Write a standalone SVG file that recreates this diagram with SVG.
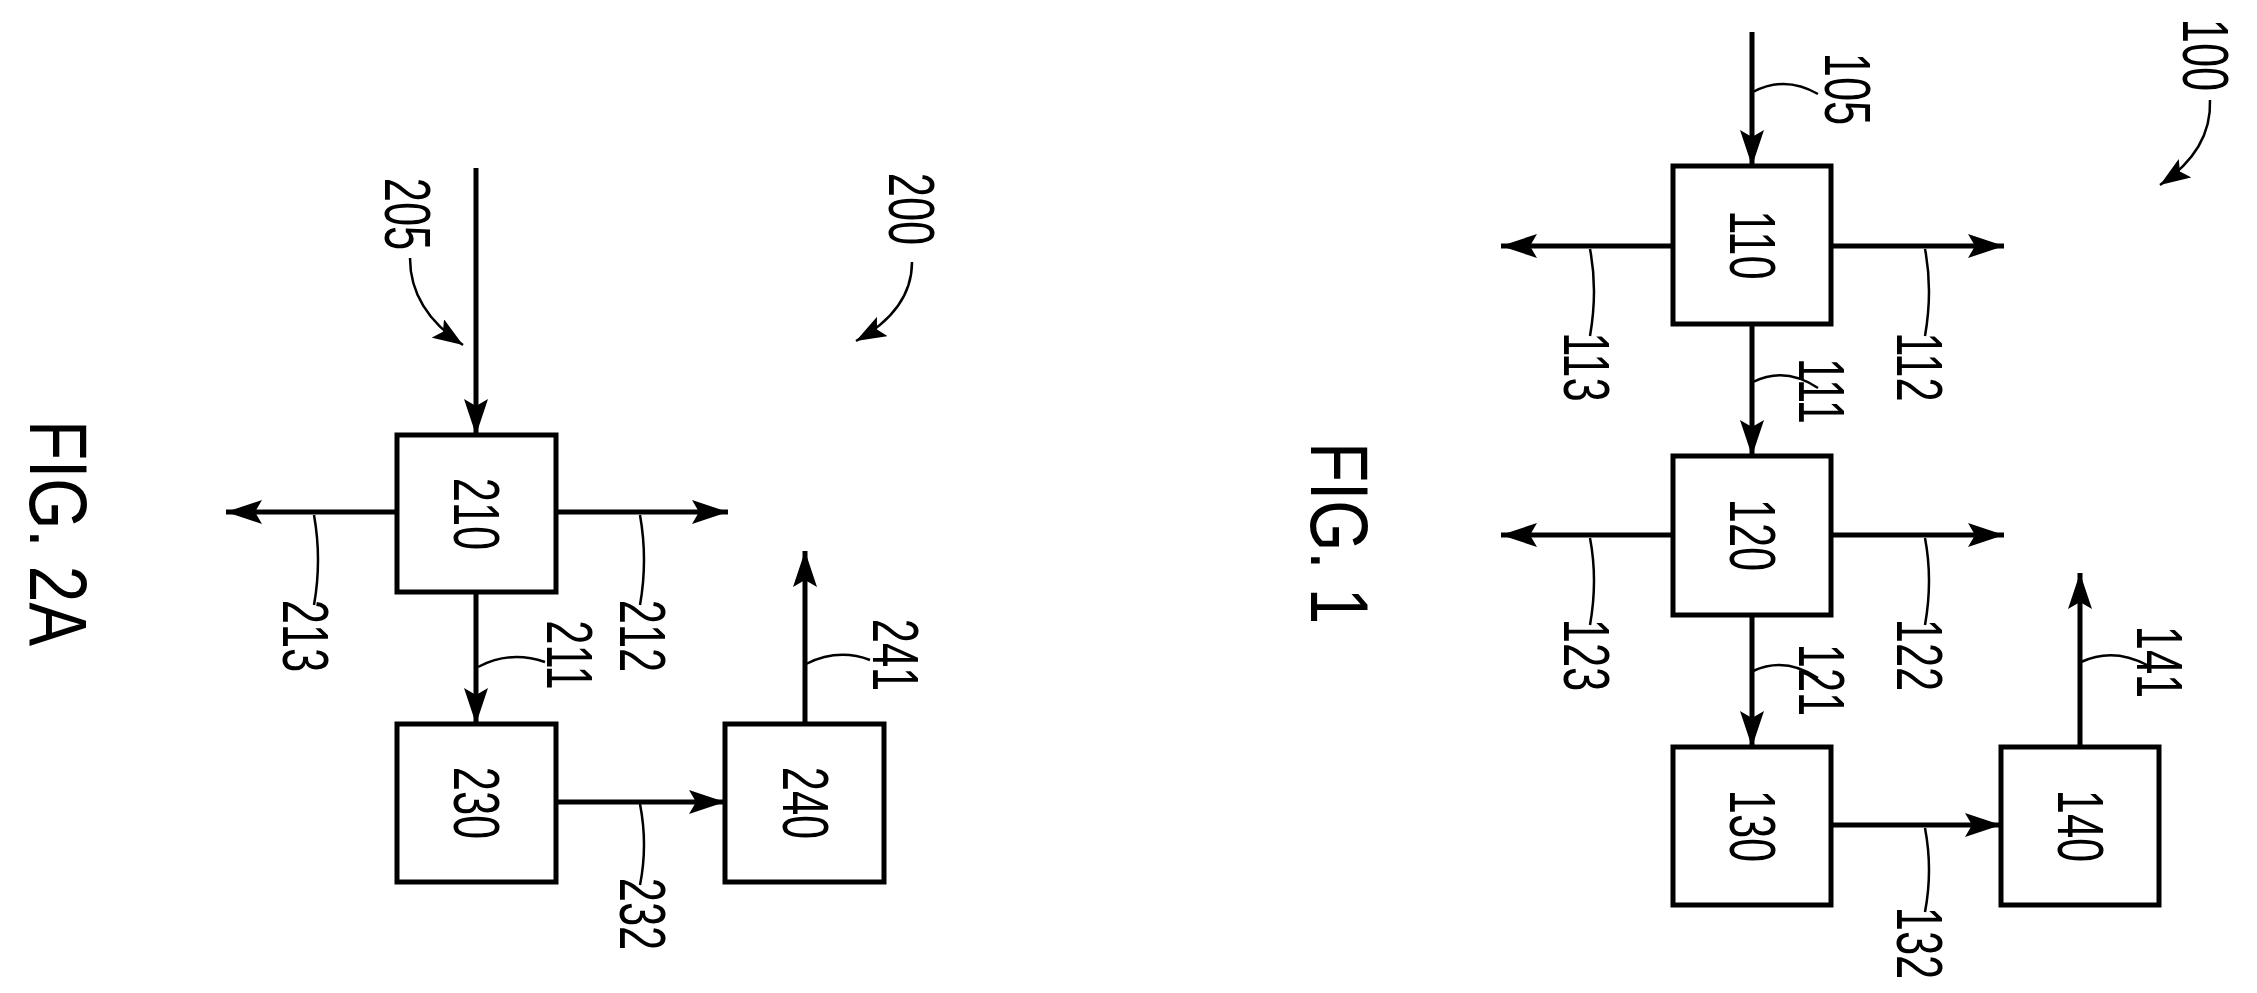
<svg xmlns="http://www.w3.org/2000/svg" width="2257" height="993" viewBox="0 0 2257 993">
<style>
.b{fill:#fff;stroke:#000;stroke-width:5}
.l{stroke:#000;stroke-width:5;fill:none}
.ld{stroke:#000;stroke-width:2.5;fill:none}
text{font-family:"Liberation Sans",Arial,sans-serif;font-size:64px;fill:#000;text-anchor:middle;dominant-baseline:central}
.f{font-size:82px}
</style>
<defs>
<marker id="a" viewBox="0 0 36 24" refX="36" refY="12" markerWidth="36" markerHeight="24" markerUnits="userSpaceOnUse" orient="auto"><path d="M0,0 L36,12 L0,24 L7,12 Z" fill="#000"/></marker>
<marker id="s" viewBox="0 0 30 22" refX="30" refY="11" markerWidth="30" markerHeight="22" markerUnits="userSpaceOnUse" orient="auto"><path d="M0,0 L30,11 L0,22 L6,11 Z" fill="#000"/></marker>
</defs>
<g id="connectors">
<line class="l" x1="1752" y1="32" x2="1752" y2="166" marker-end="url(#a)"/>
<line class="l" x1="1673" y1="246" x2="1501" y2="246" marker-end="url(#a)"/>
<line class="l" x1="1831" y1="246" x2="2004" y2="246" marker-end="url(#a)"/>
<line class="l" x1="1752" y1="324" x2="1752" y2="456" marker-end="url(#a)"/>
<line class="l" x1="1673" y1="535" x2="1501" y2="535" marker-end="url(#a)"/>
<line class="l" x1="1831" y1="535" x2="2004" y2="535" marker-end="url(#a)"/>
<line class="l" x1="1752" y1="615" x2="1752" y2="747" marker-end="url(#a)"/>
<line class="l" x1="1831" y1="825" x2="2001" y2="825" marker-end="url(#a)"/>
<line class="l" x1="2080" y1="747" x2="2080" y2="573" marker-end="url(#a)"/>
<path class="ld" d="M2210,100 Q2212,150 2160,185" marker-end="url(#s)"/>
<path class="ld" d="M1753,92 Q1785,75 1818,94"/>
<path class="ld" d="M1753,382 Q1785,366 1818,388"/>
<path class="ld" d="M1753,671 Q1785,656 1818,678"/>
<path class="ld" d="M2081,662 Q2113,647 2147,665"/>
<path class="ld" d="M1590,249 Q1598,290 1590,336"/>
<path class="ld" d="M1925,249 Q1933,290 1925,336"/>
<path class="ld" d="M1590,538 Q1598,580 1590,625"/>
<path class="ld" d="M1925,538 Q1933,580 1925,625"/>
<path class="ld" d="M1925,828 Q1933,870 1925,912"/>
<line class="l" x1="476" y1="168" x2="476" y2="435" marker-end="url(#a)"/>
<line class="l" x1="397" y1="512" x2="226" y2="512" marker-end="url(#a)"/>
<line class="l" x1="556" y1="512" x2="728" y2="512" marker-end="url(#a)"/>
<line class="l" x1="476" y1="592" x2="476" y2="724" marker-end="url(#a)"/>
<line class="l" x1="556" y1="802" x2="725" y2="802" marker-end="url(#a)"/>
<line class="l" x1="805" y1="724" x2="805" y2="551" marker-end="url(#a)"/>
<path class="ld" d="M410,258 Q410,310 463,345" marker-end="url(#s)"/>
<path class="ld" d="M912,262 Q912,310 856,341" marker-end="url(#s)"/>
<path class="ld" d="M314,515 Q322,560 314,605"/>
<path class="ld" d="M640,515 Q648,560 640,605"/>
<path class="ld" d="M640,804 Q648,845 640,885"/>
<path class="ld" d="M478,667 Q510,650 545,662"/>
<path class="ld" d="M806,664 Q838,648 870,660"/>
</g>
<g id="n110"><rect class="b" x="1673" y="166" width="158" height="158"/><text transform="translate(1752,245) rotate(90) scale(0.68,1)">110</text></g>
<g id="n120"><rect class="b" x="1673" y="456" width="158" height="159"/><text transform="translate(1752,535) rotate(90) scale(0.68,1)">120</text></g>
<g id="n130"><rect class="b" x="1673" y="747" width="158" height="158"/><text transform="translate(1752,826) rotate(90) scale(0.68,1)">130</text></g>
<g id="n140"><rect class="b" x="2001" y="747" width="158" height="158"/><text transform="translate(2080,826) rotate(90) scale(0.68,1)">140</text></g>
<g id="n210"><rect class="b" x="397" y="435" width="159" height="157"/><text transform="translate(476,514) rotate(90) scale(0.68,1)">210</text></g>
<g id="n230"><rect class="b" x="397" y="724" width="159" height="158"/><text transform="translate(476,803) rotate(90) scale(0.68,1)">230</text></g>
<g id="n240"><rect class="b" x="725" y="724" width="159" height="158"/><text transform="translate(805,803) rotate(90) scale(0.68,1)">240</text></g>
<g id="labels">
<text transform="translate(2205,55) rotate(90) scale(0.68,1)">100</text>
<text transform="translate(1847,89) rotate(90) scale(0.68,1)">105</text>
<text transform="translate(1821,391) rotate(90) scale(0.68,1)">111</text>
<text transform="translate(1919,367) rotate(90) scale(0.68,1)">112</text>
<text transform="translate(1586,367) rotate(90) scale(0.68,1)">113</text>
<text transform="translate(1821,680) rotate(90) scale(0.68,1)">121</text>
<text transform="translate(1919,655) rotate(90) scale(0.68,1)">122</text>
<text transform="translate(1586,655) rotate(90) scale(0.68,1)">123</text>
<text transform="translate(1919,943) rotate(90) scale(0.68,1)">132</text>
<text transform="translate(2159,662) rotate(90) scale(0.68,1)">141</text>
<text class="f" transform="translate(1339,533) rotate(90) scale(0.8,1)">FIG. 1</text>
<text transform="translate(911,209) rotate(90) scale(0.68,1)">200</text>
<text transform="translate(407,214) rotate(90) scale(0.68,1)">205</text>
<text transform="translate(569,655) rotate(90) scale(0.68,1)">211</text>
<text transform="translate(642,636) rotate(90) scale(0.68,1)">212</text>
<text transform="translate(305,636) rotate(90) scale(0.68,1)">213</text>
<text transform="translate(642,914) rotate(90) scale(0.68,1)">232</text>
<text transform="translate(895,655) rotate(90) scale(0.68,1)">241</text>
<text class="f" transform="translate(58,533) rotate(90) scale(0.8,1)">FIG. 2A</text>
</g>
</svg>
